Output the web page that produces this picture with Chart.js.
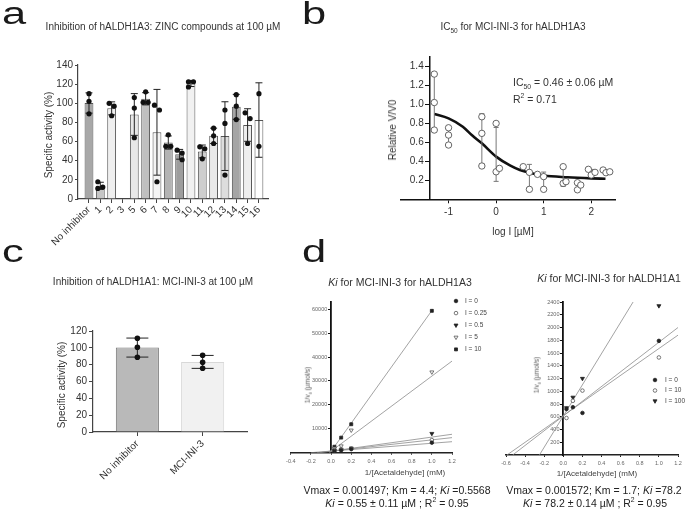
<!DOCTYPE html>
<html>
<head>
<meta charset="utf-8">
<title>hALDH1A3 / hALDH1A1 inhibition</title>
<script src="https://cdn.jsdelivr.net/npm/chart.js@4.4.1/dist/chart.umd.min.js"></script>
<style>
  body { margin: 0; background: #fff; }
  #fig { position: relative; width: 685px; height: 511px; overflow: hidden; color: #333;
         font-family: "Liberation Sans", Arial, Helvetica, sans-serif; }
  #fig canvas { position: absolute; left: 0; top: 0; }
  .t { position: absolute; white-space: nowrap; line-height: 1; transform: translate(-50%, -50%); }
  .t.v { transform: translate(-50%, -50%) rotate(-90deg); }
  .t.l { transform: translate(0, -50%); }
  .t.k { color: #222; }
  .t sub, .t sup { font-size: 65%; line-height: 0; }
  .let { position: absolute; font-size: 31px; line-height: 1; color: #1a1a1a; transform: scaleX(1.4); transform-origin: 0 0; }
</style>
</head>
<body>
<div id="fig">
  <canvas id="chartA" width="685" height="511"></canvas>
  <canvas id="chartB" width="685" height="511"></canvas>
  <canvas id="chartC" width="685" height="511"></canvas>
  <canvas id="chartD1" width="685" height="511"></canvas>
  <canvas id="chartD2" width="685" height="511"></canvas>

  <div class="let" style="left:2px;top:-2px">a</div>
  <div class="let" style="left:302px;top:-2px">b</div>
  <div class="let" style="left:2px;top:236px">c</div>
  <div class="let" style="left:302px;top:236px">d</div>

  <!-- titles -->
  <div class="t" style="left:163px;top:27px;font-size:10px">Inhibition of hALDH1A3: ZINC compounds at 100 µM</div>
  <div class="t" style="left:513px;top:27px;font-size:10px">IC<sub>50</sub> for MCI-INI-3 for hALDH1A3</div>
  <div class="t" style="left:153px;top:282px;font-size:10px">Inhibition of hALDH1A1: MCI-INI-3 at 100 µM</div>
  <div class="t" style="left:400px;top:282px;font-size:10.5px"><i>Ki</i> for MCI-INI-3 for hALDH1A3</div>
  <div class="t" style="left:609px;top:278px;font-size:10.5px"><i>Ki</i> for MCI-INI-3 for hALDH1A1</div>

  <!-- axis titles -->
  <div class="t v" style="left:49px;top:135px;font-size:10px">Specific activity (%)</div>
  <div class="t v" style="left:62px;top:385px;font-size:10px">Specific activity (%)</div>
  <div class="t v" style="left:393px;top:130px;font-size:10px">Relative V/V0</div>
  <div class="t" style="left:513px;top:232px;font-size:10px">log I [µM]</div>
  <div class="t v" style="left:308px;top:385px;font-size:6.5px;color:#555">1/v<sub>0</sub> (µmol/s)</div>
  <div class="t v" style="left:537px;top:375px;font-size:6.5px;color:#555">1/v<sub>0</sub> (µmol/s)</div>
  <div class="t" style="left:405px;top:473px;font-size:8px;color:#444">1/[Acetaldehyde] (mM)</div>
  <div class="t" style="left:597px;top:474px;font-size:8px;color:#444">1/[Acetaldehyde] (mM)</div>

  <!-- fit annotations -->
  <div class="t l" style="left:513px;top:82px;font-size:10.5px">IC<sub>50</sub> = 0.46 ± 0.06 µM</div>
  <div class="t l" style="left:513px;top:99px;font-size:10.5px">R<sup>2</sup> = 0.71</div>
  <div class="t k" style="left:397px;top:490px;font-size:10.5px">Vmax = 0.001497; Km = 4.4; <i>Ki</i> =0.5568</div>
  <div class="t k" style="left:397px;top:503px;font-size:10.5px"><i>Ki</i> = 0.55 ± 0.11 µM ; R<sup>2</sup> = 0.95</div>
  <div class="t k" style="left:594px;top:490px;font-size:10.5px">Vmax = 0.001572; Km = 1.7; <i>Ki</i> =78.2</div>
  <div class="t k" style="left:595px;top:503px;font-size:10.5px"><i>Ki</i> = 78.2 ± 0.14 µM ; R<sup>2</sup> = 0.95</div>
</div>

<script>
// a: ZINC compounds on hALDH1A3 (compound 3 has no bar)
var aLabels = ['No inhibitor', '1', '2', '3', '5', '6', '7', '8', '9', '10', '11', '12', '13', '14', '15', '16'];
var aMean = [100.3, 13.8, 94.7, null, 88.3, 104.7, 69.7, 59, 46.7, 120.7, 49.7, 66, 65.7, 96.3, 77.3, 82.5];
var aSD = [10.6, 3.7, 6.8, null, 21.8, 6.4, 44.8, 6.9, 5.1, 3.2, 6.7, 8, 35.9, 13, 17, 38.9];
var aReps = [[110, 102, 89], [18, 12.5, 11], [100, 97, 87], [], [106, 95, 64], [112, 101, 101],
             [98, 93, 18], [67, 55, 55], [51, 48, 41], [122.5, 122.5, 117], [54.5, 52.5, 42],
             [74, 66, 58], [93, 79, 25], [109, 97, 83], [90, 84, 58], [110, 55]];
var aYTicks = [0, 20, 40, 60, 80, 100, 120, 140];

// c: MCI-INI-3 on hALDH1A1
var cLabels = ['No inhibitor', 'MCI-INI-3'];
var cMean = [100.3, 83.3];
var cSD = [11.3, 7.7];
var cReps = [[111.3, 100.7, 88.8], [91.2, 82.9, 75.8]];
var cYTicks = [0, 20, 40, 60, 80, 100, 120];

// b: dose response, log I [uM]
var bDoseX = [-1.3, -1.0, -0.3, 0, 0.7, 1.0, 1.41, 1.71, 2.0, 2.31];
var bMean = [1.02, 0.668, 0.639, 0.473, 0.244, 0.202, 0.233, 0.142, 0.285, 0.293];
var bSD = [0.295, 0.091, 0.264, 0.284, 0.124, 0.085, 0.097, 0.038, 0.030, 0.015];
var bPointX = [-1.3, -1.3, -1.3, -1.0, -1.0, -1.0, -0.3, -0.3, -0.3, 0, 0, 0.07, 0.57, 0.7, 0.7,
               0.87, 1.0, 1.0, 1.41, 1.41, 1.47, 1.71, 1.71, 1.78, 1.94, 2.0, 2.08, 2.25, 2.31, 2.39];
var bPointY = [1.32, 1.02, 0.73, 0.754, 0.677, 0.572, 0.87, 0.695, 0.351, 0.80, 0.29, 0.326, 0.344, 0.284, 0.105,
               0.263, 0.239, 0.105, 0.344, 0.168, 0.186, 0.175, 0.10, 0.15, 0.316, 0.256, 0.284, 0.309, 0.28, 0.29];
var bFitX = [-1.3, -1.0, -0.7, -0.5, -0.3, 0, 0.3, 0.5, 0.7, 1.0, 1.5, 2.0, 2.3];
var bFitY = [0.90, 0.853, 0.765, 0.672, 0.59, 0.45, 0.354, 0.309, 0.28, 0.25, 0.232, 0.221, 0.217];
var bXTicks = [-1, 0, 1, 2];
var bYTicks = [0.2, 0.4, 0.6, 0.8, 1.0, 1.2, 1.4];

// d left: Lineweaver-Burk, hALDH1A3
var dLNames = ['I = 0', 'I = 0.25', 'I = 0.5', 'I = 5', 'I = 10'];
var dLX = [0.033, 0.1, 0.2, 1.0];
var dLY = [[700, 1000, 1500, 4200],
           [900, 1300, 1700, 5300],
           [1000, 1400, 1900, 8000],
           [1800, 2800, 9400, 33700],
           [2500, 6300, 11900, 59300]];
var dLFit = [[[-0.2, 15], [1.2, 4600]],
             [[-0.14, 0], [1.2, 6300]],
             [[-0.11, 0], [1.2, 7700]],
             [[-0.02, 0], [1.2, 38300]],
             [[-0.01, 0], [1.01, 60000]]];
var dLXTicks = [-0.4, -0.2, 0, 0.2, 0.4, 0.6, 0.8, 1.0, 1.2];
var dLYTicks = [10000, 20000, 30000, 40000, 50000, 60000];

// d right: Lineweaver-Burk, hALDH1A1
var dRNames = ['I = 0', 'I = 10', 'I = 100'];
var dRX = [0.033, 0.1, 0.2, 1.0];
var dRY = [[720, 750, 660, 1790],
           [580, 850, 1010, 1530],
           [740, 905, 1200, 2340]];
var dRFit = [[[-0.59, 0], [1.2, 1880]],
             [[-0.53, 0], [1.2, 2000]],
             [[-0.25, 0], [0.73, 2400]]];
var dRXTicks = [-0.6, -0.4, -0.2, 0, 0.2, 0.4, 0.6, 0.8, 1.0, 1.2];
var dRYTicks = [200, 400, 600, 800, 1000, 1200, 1400, 1600, 1800, 2000, 2200, 2400];

var W = 685, H = 511;
Chart.defaults.font.family = '"Liberation Sans", Arial, Helvetica, sans-serif';
Chart.defaults.color = '#333';

// chart area as [left, top, right, bottom] in page pixels; the x axis box fills
// everything below, the y axis box everything left (unless it sits inside the plot)
function frame(area, scales, yInside) {
  scales.x._size = H - area[3];
  scales.y._size = yInside ? 0 : area[0];
  return {
    responsive: false, animation: false, events: [],
    layout: { padding: { left: yInside ? area[0] : 0, top: area[1], right: W - area[2], bottom: 0 } },
    plugins: { legend: { display: false }, tooltip: { enabled: false } },
    scales: scales
  };
}

function axis(o) {
  var s = {
    type: 'linear', min: o.min, max: o.max, offset: false,
    border: { display: true, color: o.color || '#444', width: o.bw || 1.2 },
    grid: { drawOnChartArea: false, drawTicks: true, tickLength: o.tl, color: o.color || '#444', offset: false },
    ticks: { autoSkip: false, font: { size: o.fs }, color: o.tc || '#333', padding: o.pad,
             minRotation: o.rot || 0, maxRotation: o.rot || 0, callback: o.fmt || function (v) { return v; } },
    afterBuildTicks: function (sc) { sc.ticks = o.ticks.map(function (v) { return { value: v }; }); },
    afterFit: function (sc) {
      if (sc.isHorizontal()) sc.height = s._size; else sc.width = s._size;
    }
  };
  if (o.pos) s.position = o.pos;
  return s;
}

// spread replicate dots that would overlap
function spread(vals) {
  return vals.map(function (v, j) {
    var near = vals.filter(function (w, k) { return k !== j && Math.abs(w - v) < 8; }).length;
    if (!near) return 0;
    var before = vals.filter(function (w, k) { return k < j && Math.abs(w - v) < 8; }).length;
    return before % 2 ? 0.22 : -0.22;
  });
}

// mean +/- SD whiskers, drawn right after dataset `after`
function errorBars(after, xs, mean, sd, cap, color, width) {
  return {
    id: 'errBars',
    afterDatasetDraw: function (chart, args) {
      if (args.index !== after) return;
      var sx = chart.scales.x, sy = chart.scales.y, ctx = chart.ctx;
      ctx.save();
      ctx.strokeStyle = color;
      ctx.lineWidth = width;
      xs.forEach(function (xv, i) {
        if (mean[i] == null) return;
        var px = sx.getPixelForValue(xv);
        var hi = sy.getPixelForValue(mean[i] + sd[i]);
        var lo = sy.getPixelForValue(mean[i] - sd[i]);
        ctx.beginPath();
        ctx.moveTo(px, hi); ctx.lineTo(px, lo);
        ctx.moveTo(px - cap / 2, hi); ctx.lineTo(px + cap / 2, hi);
        ctx.moveTo(px - cap / 2, lo); ctx.lineTo(px + cap / 2, lo);
        ctx.stroke();
      });
      ctx.restore();
    }
  };
}

// small symbol legend for the kinetics plots
function miniLegend(x, y, dy, gap, size) {
  return {
    id: 'miniLegend',
    afterDraw: function (chart) {
      var ctx = chart.ctx, n = 0;
      ctx.save();
      ctx.font = size + 'px "Liberation Sans", Arial, sans-serif';
      ctx.textBaseline = 'middle';
      chart.data.datasets.forEach(function (ds) {
        if (!ds.label) return;
        var yy = y + n * dy;
        n++;
        ctx.fillStyle = ds.backgroundColor;
        ctx.strokeStyle = ds.borderColor;
        ctx.lineWidth = ds.borderWidth;
        Chart.helpers.drawPoint(ctx, { pointStyle: ds.pointStyle, radius: ds.pointRadius,
          rotation: ds.pointRotation || 0, borderWidth: ds.borderWidth }, x, yy);
        ctx.fillStyle = '#444';
        ctx.fillText(ds.label, x + gap, yy);
      });
      ctx.restore();
    }
  };
}

// y labels of an axis placed inside the plot sit right on the axis line; pad them
function padLeft(str, fs) { return str + (fs > 8 ? '\u2002\u200A' : '\u2002\u2009'); }

// ---- a
var aFill = ['#a8a8a8', '#c6c6c6', '#efefef', '#ffffff', '#e8e8e8', '#c0c0c0', '#f4f4f4', '#b3b3b3',
             '#9d9d9d', '#f1f1f1', '#cecece', '#eaeaea', '#dddddd', '#a5a5a5', '#eeeeee', '#ffffff'];
var aIdx = aLabels.map(function (l, i) { return i; });

new Chart(document.getElementById('chartA'), {
  type: 'bar',
  data: {
    datasets: [{
      type: 'scatter',
      data: aReps.reduce(function (acc, r, i) {
        var dx = spread(r);
        return acc.concat(r.map(function (v, j) { return { x: i + dx[j], y: v }; }));
      }, []),
      pointRadius: 2.6, backgroundColor: '#111', borderWidth: 0
    }, {
      data: aMean.map(function (m, i) { return { x: i, y: m }; }),
      backgroundColor: aFill, borderColor: '#555', borderWidth: 1,
      categoryPercentage: 1, barPercentage: 0.78
    }]
  },
  options: frame([78, 65, 268, 199], {
    x: axis({ min: -0.97, max: 15.8, ticks: aIdx, fmt: function (v) { return aLabels[v]; }, tl: 4, pad: 1, fs: 10, rot: 45 }),
    y: axis({ min: 0, max: 140, ticks: aYTicks, tl: 3, pad: 2, fs: 10 })
  }),
  plugins: [errorBars(1, aIdx, aMean, aSD, 7, '#222', 1)]
});

// ---- c
new Chart(document.getElementById('chartC'), {
  type: 'bar',
  data: {
    datasets: [{
      type: 'scatter',
      data: cReps.reduce(function (acc, r, i) {
        return acc.concat(r.map(function (v) { return { x: i, y: v }; }));
      }, []),
      pointRadius: 2.8, backgroundColor: '#111', borderWidth: 0
    }, {
      data: cMean.map(function (m, i) { return { x: i, y: m }; }),
      backgroundColor: ['#b9b9b9', '#f1f1f1'], borderColor: ['#777', '#d8d8d8'], borderWidth: 1,
      categoryPercentage: 1, barPercentage: 0.66
    }]
  },
  options: frame([93, 331, 247, 432], {
    x: axis({ min: -0.68, max: 1.68, ticks: [0, 1], fmt: function (v) { return cLabels[v]; }, tl: 4, pad: 2, fs: 10, rot: 45 }),
    y: axis({ min: 0, max: 120, ticks: cYTicks, tl: 4, pad: 2, fs: 10 })
  }),
  plugins: [errorBars(1, [0, 1], cMean, cSD, 22, '#222', 1)]
});

// ---- b
new Chart(document.getElementById('chartB'), {
  type: 'scatter',
  data: {
    datasets: [{
      data: bPointX.map(function (x, i) { return { x: x, y: bPointY[i] }; }),
      pointRadius: 3.2, backgroundColor: '#fff', borderColor: '#555', borderWidth: 0.9
    }, {
      data: bFitX.map(function (x, i) { return { x: x, y: bFitY[i] }; }),
      showLine: true, pointRadius: 0, borderColor: '#111', borderWidth: 2.6,
      cubicInterpolationMode: 'monotone', fill: false
    }]
  },
  options: frame([401, 57, 615, 199.3], {
    x: axis({ min: -2, max: 2.5, ticks: bXTicks, tl: 4, pad: 3, fs: 10, bw: 1.5, color: '#111' }),
    y: axis({ min: 0, max: 1.5, ticks: bYTicks, tl: 4, pad: 2, fs: 10, bw: 1.5, color: '#111',
              pos: { x: -1.4 }, fmt: function (v) { return padLeft(v.toFixed(1), 10); } })
  }, true),
  plugins: [errorBars(1, bDoseX, bMean, bSD, 5, '#777', 1)]
});

// ---- d
function kineticsChart(id, area, xr, yr, xt, yt, names, xs, ys, fits, styles, legend) {
  var sets = names.map(function (nm, i) {
    var st = styles[i];
    return {
      label: nm,
      data: xs.map(function (x, j) { return { x: x, y: ys[i][j] }; }),
      pointStyle: st.shape, pointRotation: st.rot || 0, pointRadius: st.r,
      backgroundColor: st.fill, borderColor: st.line, borderWidth: 0.8
    };
  });
  fits.forEach(function (f) {
    sets.push({
      data: f.map(function (p) { return { x: p[0], y: p[1] }; }),
      showLine: true, pointRadius: 0, borderColor: '#8c8c8c', borderWidth: 0.8
    });
  });
  new Chart(document.getElementById(id), {
    type: 'scatter',
    data: { datasets: sets },
    options: frame(area, {
      x: axis({ min: xr[0], max: xr[1], ticks: xt, tl: 2, pad: 3, fs: 5.5, tc: '#666', bw: 1.4, color: '#222',
                fmt: function (v) { return Number(v).toFixed(1); } }),
      y: axis({ min: yr[0], max: yr[1], ticks: yt, tl: 2, pad: 2, fs: 5.5, tc: '#666', bw: 1.8, color: '#111',
                pos: { x: 0 }, fmt: function (v) { return padLeft(String(v), 5.5); } })
    }, true),
    plugins: [miniLegend(legend[0], legend[1], legend[2], legend[3], 6.5)]
  });
}

var filledCircle = { shape: 'circle', r: 1.8, fill: '#222', line: '#222' };
var openCircle = { shape: 'circle', r: 1.8, fill: '#fff', line: '#555' };
var filledTri = { shape: 'triangle', rot: 180, r: 2.3, fill: '#222', line: '#222' };
var openTri = { shape: 'triangle', rot: 180, r: 2.3, fill: '#fff', line: '#555' };
var filledSq = { shape: 'rect', r: 2.1, fill: '#222', line: '#222' };

kineticsChart('chartD1', [290.8, 302, 452, 452.7], [-0.4, 1.2], [0, 63000], dLXTicks, dLYTicks,
  dLNames, dLX, dLY, dLFit, [filledCircle, openCircle, filledTri, openTri, filledSq], [456, 301, 12.1, 9]);

kineticsChart('chartD2', [506, 302, 678, 455], [-0.6, 1.2], [0, 2400], dRXTicks, dRYTicks,
  dRNames, dRX, dRY, dRFit, [filledCircle, openCircle, filledTri], [655, 380, 10.5, 10]);
</script>
</body>
</html>
